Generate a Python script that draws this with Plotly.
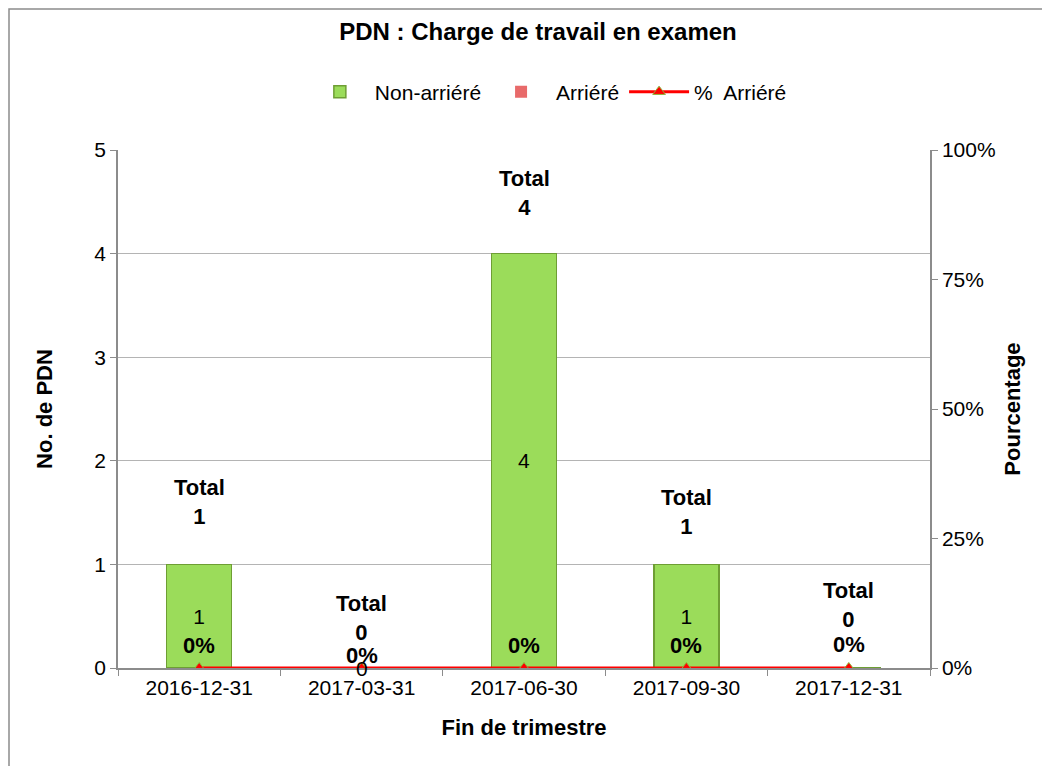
import plotly.graph_objects as go

categories = ["2016-12-31", "2017-03-31", "2017-06-30", "2017-09-30", "2017-12-31"]
non_arriere = [1, 0, 4, 1, 0]
arriere = [0, 0, 0, 0, 0]
pct_arriere = [0, 0, 0, 0, 0]
totals = [a + b for a, b in zip(non_arriere, arriere)]

# label offsets (pixels) used only for placing text
total_shift = [33, 21, 32, 23, 34]
pct_shift = [23, 13, 23, 23, 24]

FONT = "Liberation Sans, Arial, sans-serif"

fig = go.Figure()

fig.add_trace(go.Bar(
    x=categories, y=non_arriere, name="Non-arriéré",
    marker=dict(color="#9BDC5A", line=dict(color="#6E9E34", width=1.5)),
    width=0.4,
    text=[str(v) if v else "" for v in non_arriere],
    textposition="inside", insidetextanchor="middle",
    textfont=dict(family=FONT, size=21, color="#000000"),
    hoverinfo="x+y",
))
fig.add_trace(go.Bar(
    x=categories, y=arriere, name="Arriéré",
    marker=dict(color="#E86A6A", line=dict(color="#B04040", width=0)),
    width=0.4,
))
fig.add_trace(go.Scatter(
    x=categories, y=pct_arriere, name="%  Arriéré", yaxis="y2",
    mode="lines+markers",
    line=dict(color="#FF0000", width=3),
    marker=dict(symbol="triangle-up", size=11, color="#FF0000",
                line=dict(color="#8DB43A", width=1)),
))

annotations = []
for i, c in enumerate(categories):
    annotations.append(dict(
        x=c, y=totals[i], xref="x", yref="y",
        text=f"<b>Total<br>{totals[i]}</b>", showarrow=False,
        yanchor="bottom", yshift=total_shift[i],
        font=dict(family=FONT, size=22, color="#000000"),
    ))
    annotations.append(dict(
        x=c, y=pct_arriere[i], xref="x", yref="y2",
        text=f"<b>{pct_arriere[i]:.0%}</b>", showarrow=False,
        yanchor="middle", yshift=pct_shift[i],
        font=dict(family=FONT, size=22, color="#000000"),
    ))
# zero-valued bar label visible at 2017-03-31
annotations.append(dict(
    x=categories[1], y=non_arriere[1], xref="x", yref="y",
    text=str(non_arriere[1]), showarrow=False, yanchor="middle",
    font=dict(family=FONT, size=21, color="#000000"),
))

fig.update_layout(
    width=1050, height=766,
    paper_bgcolor="white", plot_bgcolor="white",
    margin=dict(l=110, r=128, t=142, b=106),
    barmode="stack",
    font=dict(family=FONT, size=21, color="#000000"),
    title=dict(text="<b>PDN : Charge de travail en examen</b>",
               x=(538 - 8) / 1050, xref="container", xanchor="center",
               y=1 - 24 / 766, yref="container", yanchor="middle",
               font=dict(family=FONT, size=24, color="#000000")),
    legend=dict(orientation="h", x=0.53, xanchor="center",
                y=1 + (142 - 84) / 518, yanchor="middle",
                font=dict(family=FONT, size=21, color="#000000"),
                itemwidth=60, traceorder="normal"),
    xaxis=dict(
        type="category", showgrid=False, showline=True, linecolor="#8C8C8C",
        linewidth=1.5, ticks="outside", tickson="boundaries", ticklen=6,
        tickcolor="#8C8C8C", range=[-0.5, 4.5], automargin=False,
        title=dict(text="<b>Fin de trimestre</b>", standoff=22,
                   font=dict(family=FONT, size=22)),
        tickfont=dict(family=FONT, size=21),
    ),
    yaxis=dict(
        range=[0, 5], dtick=1, showgrid=True, gridcolor="#B4B4B4", gridwidth=1,
        showline=True, linecolor="#8C8C8C", linewidth=1.5, automargin=False,
        ticks="outside", ticklen=6, tickcolor="#8C8C8C", zeroline=False,
        title=dict(text="<b>No. de PDN</b>", standoff=36,
                   font=dict(family=FONT, size=22)),
        tickfont=dict(family=FONT, size=21),
    ),
    yaxis2=dict(
        overlaying="y", side="right", range=[0, 1], tickvals=[0, 0.25, 0.5, 0.75, 1],
        tickformat=".0%", showgrid=False, showline=True, linecolor="#8C8C8C",
        linewidth=1.5, ticks="outside", ticklen=6, tickcolor="#8C8C8C",
        zeroline=False, automargin=False,
        title=dict(text="<b>Pourcentage</b>", standoff=10,
                   font=dict(family=FONT, size=22)),
        tickfont=dict(family=FONT, size=21),
    ),
    annotations=annotations,
    shapes=[dict(type="rect", xref="paper", yref="paper",
                 x0=(1 - 110) / 812, x1=1.3, y0=-0.4, y1=1 + (142 - 1) / 518,
                 line=dict(color="#8C8C8C", width=1.5), layer="below")],
)

fig.write_html("out.html")
